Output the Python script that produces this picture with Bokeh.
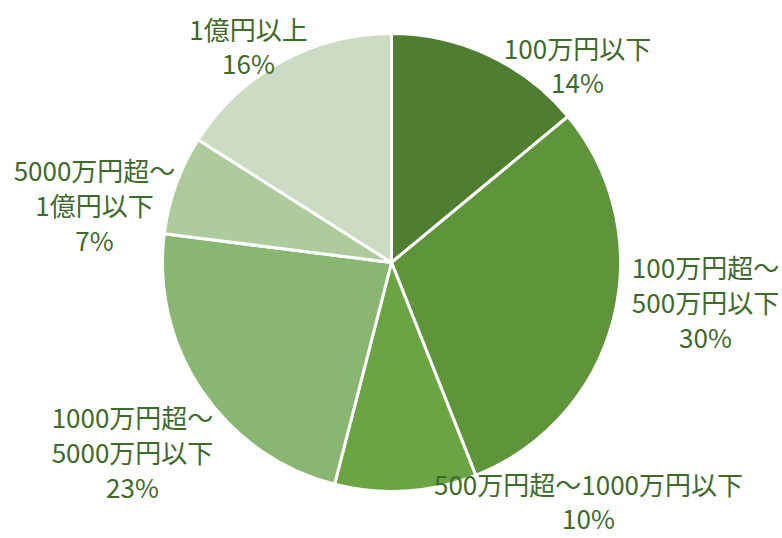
import numpy as np
from bokeh.plotting import figure
from bokeh.models import ColumnDataSource, Range1d
from bokeh.core.properties import value
from bokeh.embed import file_html
from bokeh.resources import INLINE

# ---- data ----
categories = ["100万円以下", "100万円超～\n500万円以下", "500万円超～1000万円以下",
              "1000万円超～\n5000万円以下", "5000万円超～\n1億円以下", "1億円以上"]
shares = [14, 30, 10, 23, 7, 16]
colors = ["#507e31", "#5e953a", "#6ba443", "#89b771", "#aecb9d", "#cbdcc3"]

# ---- layout (screen pixels) ----
W, H = 782, 538
cx, cy, r = 391, 262, 229
label_x = [577, 705, 588, 132, 94, 248]
label_y = [64, 301, 500, 451, 204, 45]
line_gap = 35

vals = np.array(shares, dtype=float)
frac = vals / vals.sum()
cum = np.concatenate([[0], np.cumsum(frac)])
start = np.pi / 2 - cum[:-1] * 2 * np.pi
end = np.pi / 2 - cum[1:] * 2 * np.pi

src = ColumnDataSource(dict(start=start, end=end, color=colors))

p = figure(width=W, height=H, output_backend="svg", toolbar_location=None,
           x_range=Range1d(0, W), y_range=Range1d(0, H),
           x_axis_location=None, y_axis_location=None,
           min_border=0, outline_line_color=None, background_fill_color="white")
p.grid.visible = False

p.wedge(x=cx, y=H - cy, radius=r, start_angle="start", end_angle="end",
        direction="clock", fill_color="color", line_color="white", line_width=3,
        source=src)

xs, ys, ts = [], [], []
for c, s, lx, ly in zip(categories, shares, label_x, label_y):
    lines = c.split("\n") + [f"{s}%"]
    n = len(lines)
    gap = line_gap if n > 2 else 34
    for i, t in enumerate(lines):
        xs.append(lx)
        ys.append(H - (ly + (i - (n - 1) / 2) * gap))
        ts.append(t)

lsrc = ColumnDataSource(dict(x=xs, y=ys, t=ts))
p.text(x="x", y="y", text="t", source=lsrc, text_align="center",
       text_baseline="middle", text_font=value("Noto Sans CJK JP"),
       text_font_size="26px", text_color="#3e6a2a")

open("out.html", "w").write(file_html(p, INLINE))
